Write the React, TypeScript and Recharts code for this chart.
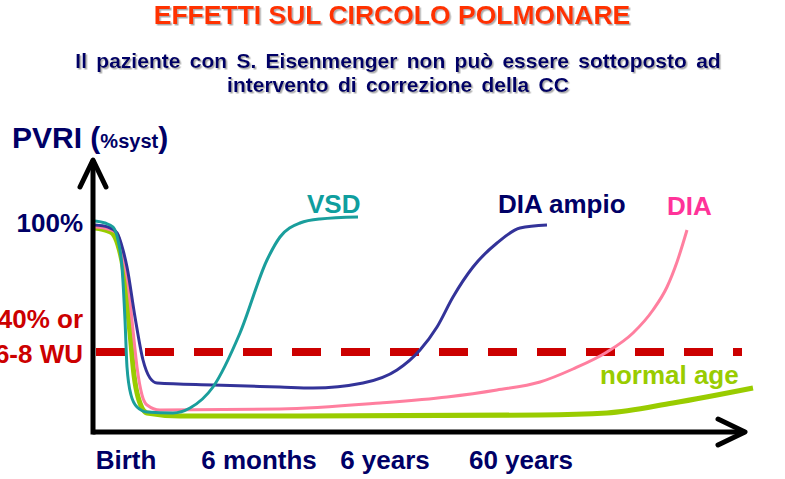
import { LineChart, Line, XAxis, YAxis, ReferenceLine } from "recharts";

// header text
const TITLE = "EFFETTI SUL CIRCOLO POLMONARE";
const SUBTITLE = [
  "Il paziente con S. Eisenmenger non può essere sottoposto ad",
  "intervento di correzione della CC",
];

// axis ticks (x = time line, y = PVRI)
const X_TICKS = [33, 166, 292, 428];
const X_LABELS = ["Birth", "6 months", "6 years", "60 years"];
const Y_TICKS = [105, 40];
const THRESHOLD = 40;

// curves: [x, y]
const vsd = [
  [2, 105.5], [12, 104.5], [20, 102.5], [25, 96], [29, 82.5], [32, 56], [34, 32.5],
  [38, 18.5], [44, 12.5], [54, 10], [80, 9.5], [97, 12], [120, 22.5], [147, 49.5],
  [174, 86], [187, 97.5], [207, 104.5], [227, 106.5], [265, 107.5],
];
const diaAmpio = [
  [2, 103.5], [15, 102.5], [24, 99.5], [30, 91], [34, 82.5], [42, 57.5], [50, 36],
  [57, 27], [64, 24.5], [120, 23.5], [187, 22.5], [220, 22], [270, 24.5], [304, 31],
  [327, 41], [344, 52.5], [360, 67.5], [380, 82.5], [404, 94.5], [427, 102], [454, 103.5],
];
const dia = [
  [2, 102.5], [15, 101.5], [24, 99.5], [30, 88.5], [35, 74.5], [40, 51], [44, 32.5],
  [49, 18.5], [54, 13.5], [67, 11], [187, 11.5], [287, 14.5], [354, 17.5], [404, 21],
  [447, 25], [480, 31.5], [514, 40], [540, 49.5], [560, 61], [574, 72.5], [584, 85], [594, 101],
];
const normalAge = [
  [2, 102], [15, 100.5], [20, 99], [25, 93.5], [30, 82.5], [37, 49.5], [41, 28.5],
  [45, 17.5], [54, 9.5], [87, 8], [207, 8], [447, 8.5], [514, 9.5], [580, 14.5], [660, 22],
];

const toRows = (pts: number[][]) => pts.map(([x, y]) => ({ x, y }));

const FONT = "Arial, 'Liberation Sans', Helvetica, sans-serif";
const NAVY = "#000066";

function XTick(props: any) {
  const i = X_TICKS.indexOf(props.payload.value);
  return (
    <text x={props.x} y={props.y} textAnchor="middle" fill={NAVY} fontSize={26} fontWeight="bold" fontFamily={FONT}>
      {X_LABELS[i]}
    </text>
  );
}

function YTick(props: any) {
  const { x, y, payload } = props;
  if (payload.value === THRESHOLD) {
    return (
      <text textAnchor="end" fill="#cc0000" fontSize={26} fontWeight="bold" fontFamily={FONT}>
        <tspan x={x} y={y - 24}>40% or</tspan>
        <tspan x={x} y={y + 11}>6-8 WU</tspan>
      </text>
    );
  }
  return (
    <text x={x} y={y + 9.5} textAnchor="end" fill={NAVY} fontSize={26} fontWeight="bold" fontFamily={FONT}>
      100%
    </text>
  );
}

const axisArrow = (p: any) => (
  <line x1={p.x1} y1={p.y1} x2={p.x2} y2={p.y2} stroke="#000" strokeWidth={5} markerEnd="url(#axisArrow)" />
);

export default function App() {
  return (
    <div style={{ position: "absolute", left: 0, top: 0, width: 785, height: 479, background: "#fff", overflow: "hidden" }}>
      <LineChart width={785} height={479} margin={{ top: 160, right: 32, bottom: 0, left: 0 }}>
        <defs>
          <marker
            id="axisArrow"
            viewBox="-32 -16 36 32"
            refX={0}
            refY={0}
            markerWidth={36}
            markerHeight={32}
            markerUnits="userSpaceOnUse"
            orient="auto"
          >
            <path d="M-27,-13 L0,0 L-27,13" fill="none" stroke="#000" strokeWidth={5} strokeLinecap="round" strokeLinejoin="round" />
          </marker>
        </defs>
        <XAxis
          type="number"
          dataKey="x"
          domain={[0, 660]}
          ticks={X_TICKS}
          height={47}
          axisLine={false}
          tickLine={false}
          tickSize={0}
          tickMargin={37}
          tick={XTick}
        />
        <YAxis
          type="number"
          dataKey="y"
          domain={[0, 136]}
          ticks={Y_TICKS}
          width={93}
          axisLine={false}
          tickLine={false}
          tickSize={0}
          tickMargin={10}
          tick={YTick}
        />
        <ReferenceLine
          segment={[{ x: 3, y: THRESHOLD }, { x: 649, y: THRESHOLD }]}
          stroke="#cc0000"
          strokeWidth={8}
          strokeDasharray="29 20"
        />
        <Line data={toRows(normalAge)} dataKey="y" type="monotone" stroke="#99cc00" strokeWidth={5} dot={false} activeDot={false} isAnimationActive={false} />
        <Line data={toRows(dia)} dataKey="y" type="monotone" stroke="#ff7f9f" strokeWidth={3} dot={false} activeDot={false} isAnimationActive={false} />
        <Line data={toRows(diaAmpio)} dataKey="y" type="monotone" stroke="#333399" strokeWidth={3} dot={false} activeDot={false} isAnimationActive={false} />
        <Line data={toRows(vsd)} dataKey="y" type="monotone" stroke="#1a9e9c" strokeWidth={3} dot={false} activeDot={false} isAnimationActive={false} />
        <ReferenceLine segment={[{ x: -0.5, y: 0 }, { x: 652, y: 0 }]} ifOverflow="visible" shape={axisArrow} />
        <ReferenceLine segment={[{ x: 0, y: -1.2 }, { x: 0, y: 136 }]} ifOverflow="visible" shape={axisArrow} />
      </LineChart>

      <svg width={785} height={479} style={{ position: "absolute", left: 0, top: 0, pointerEvents: "none" }} fontFamily={FONT} fontWeight="bold">
        <defs>
          <filter id="txtShadow" x="-5%" y="-30%" width="110%" height="160%">
            <feDropShadow dx={1.5} dy={1.5} stdDeviation={0.7} floodColor="#888" floodOpacity={0.7} />
          </filter>
        </defs>
        <text x={392} y={24} textAnchor="middle" fontSize={26.5} fill="#ff3300" filter="url(#txtShadow)">
          {TITLE}
        </text>
        <text x={398} y={68} textAnchor="middle" fontSize={21} fill={NAVY} wordSpacing={3.5} filter="url(#txtShadow)">
          {SUBTITLE[0]}
        </text>
        <text x={398} y={92} textAnchor="middle" fontSize={21} fill={NAVY} wordSpacing={3.5} filter="url(#txtShadow)">
          {SUBTITLE[1]}
        </text>
        <text x={12} y={148} fill={NAVY} fontSize={30}>
          PVRI (<tspan fontSize={20}>%syst</tspan>)
        </text>
        <text x={307} y={213} fontSize={26} fill="#0f9e9e">VSD</text>
        <text x={498} y={213} fontSize={26} fill={NAVY}>DIA ampio</text>
        <text x={667} y={215} fontSize={26} fill="#ff3399">DIA</text>
        <text x={600} y={384} fontSize={26} fill="#99cc00">normal age</text>
      </svg>
    </div>
  );
}
